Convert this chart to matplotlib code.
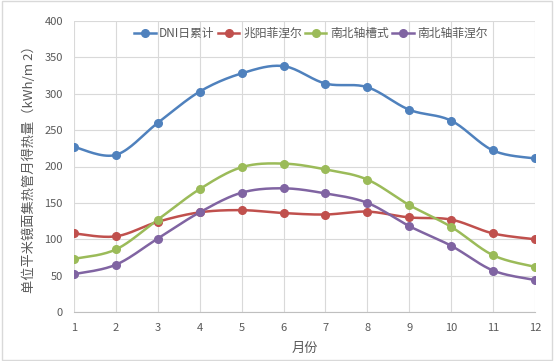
import numpy as np
import matplotlib
matplotlib.use("Agg")
from matplotlib import pyplot as plt

plt.rcParams['font.family'] = ['Noto Sans CJK SC', 'DejaVu Sans']

months = [1, 2, 3, 4, 5, 6, 7, 8, 9, 10, 11, 12]
dni = [227, 216, 260, 303, 328, 338, 314, 309, 278, 263, 222, 211]
zhaoyang = [108, 104, 124, 137, 140, 136, 134, 138, 130, 127, 108, 100]
ns_trough = [73, 86, 127, 169, 199, 204, 196, 182, 147, 117, 78, 62]
ns_fresnel = [52, 65, 101, 137, 164, 170, 163, 150, 118, 91, 57, 44]

names = ['DNI日累计', '兆阳菲涅尔', '南北轴槽式', '南北轴菲涅尔']
colors = ['#4F81BD', '#C0504D', '#9BBB59', '#8064A2']


def smooth(x, y, n=20):
    # Excel-like smoothed line: cubic bezier through points (catmull-rom style)
    x = np.asarray(x, float)
    y = np.asarray(y, float)
    px = np.concatenate([[x[0]], x, [x[-1]]])
    py = np.concatenate([[y[0]], y, [y[-1]]])
    xs, ys = [], []
    t = np.linspace(0, 1, n)
    for i in range(1, len(px) - 2):
        p0 = np.array([px[i], py[i]])
        p3 = np.array([px[i + 1], py[i + 1]])
        p1 = p0 + (np.array([px[i + 1], py[i + 1]]) - np.array([px[i - 1], py[i - 1]])) / 6
        p2 = p3 - (np.array([px[i + 2], py[i + 2]]) - np.array([px[i], py[i]])) / 6
        b = ((1 - t) ** 3)[:, None] * p0 + (3 * (1 - t) ** 2 * t)[:, None] * p1 \
            + (3 * (1 - t) * t ** 2)[:, None] * p2 + (t ** 3)[:, None] * p3
        xs.extend(b[:, 0])
        ys.extend(b[:, 1])
    return xs, ys


fig = plt.figure(figsize=(5.54, 3.61), dpi=100)
ax = fig.add_axes([74 / 554, 1 - 312 / 361, (535 - 74) / 554, (312 - 21) / 361])

for data, name, c in zip([dni, zhaoyang, ns_trough, ns_fresnel], names, colors):
    sx, sy = smooth(months, data)
    ax.plot(sx, sy, color=c, lw=1.8, zorder=3)
    ax.plot(months, data, 'o', color=c, ms=5.5, zorder=4)
    ax.plot([], [], '-o', color=c, lw=1.8, ms=5.5, label=name)

ax.set_xlim(1, 12)
ax.set_ylim(0, 400)
ax.set_xticks(months)
ax.set_yticks(range(0, 401, 50))
ax.grid(True, color='#D9D9D9', lw=0.8)
ax.set_axisbelow(True)
for s in ['top', 'right', 'left']:
    ax.spines[s].set_visible(False)
ax.spines['bottom'].set_color('#BFBFBF')
ax.tick_params(length=0, labelsize=8, colors='#595959', pad=8)
ax.set_xlabel('月份', fontsize=9.5, color='#595959', labelpad=6)
ax.set_ylabel('单位平米镜面集热管月得热量（kWh/m 2）', fontsize=9.5, color='#595959', labelpad=6)

ax.legend(loc='upper center', bbox_to_anchor=(0.514, 1.015), ncol=4, frameon=False,
          fontsize=8.5, handlelength=1.8, columnspacing=0.3, handletextpad=0.3,
          labelcolor='#595959')

fig.patches.append(plt.Rectangle((0.003, 0.004), 0.994, 0.992, transform=fig.transFigure,
                                 fill=False, edgecolor='#D9D9D9', lw=1))

fig.savefig('out.png', dpi=100)
